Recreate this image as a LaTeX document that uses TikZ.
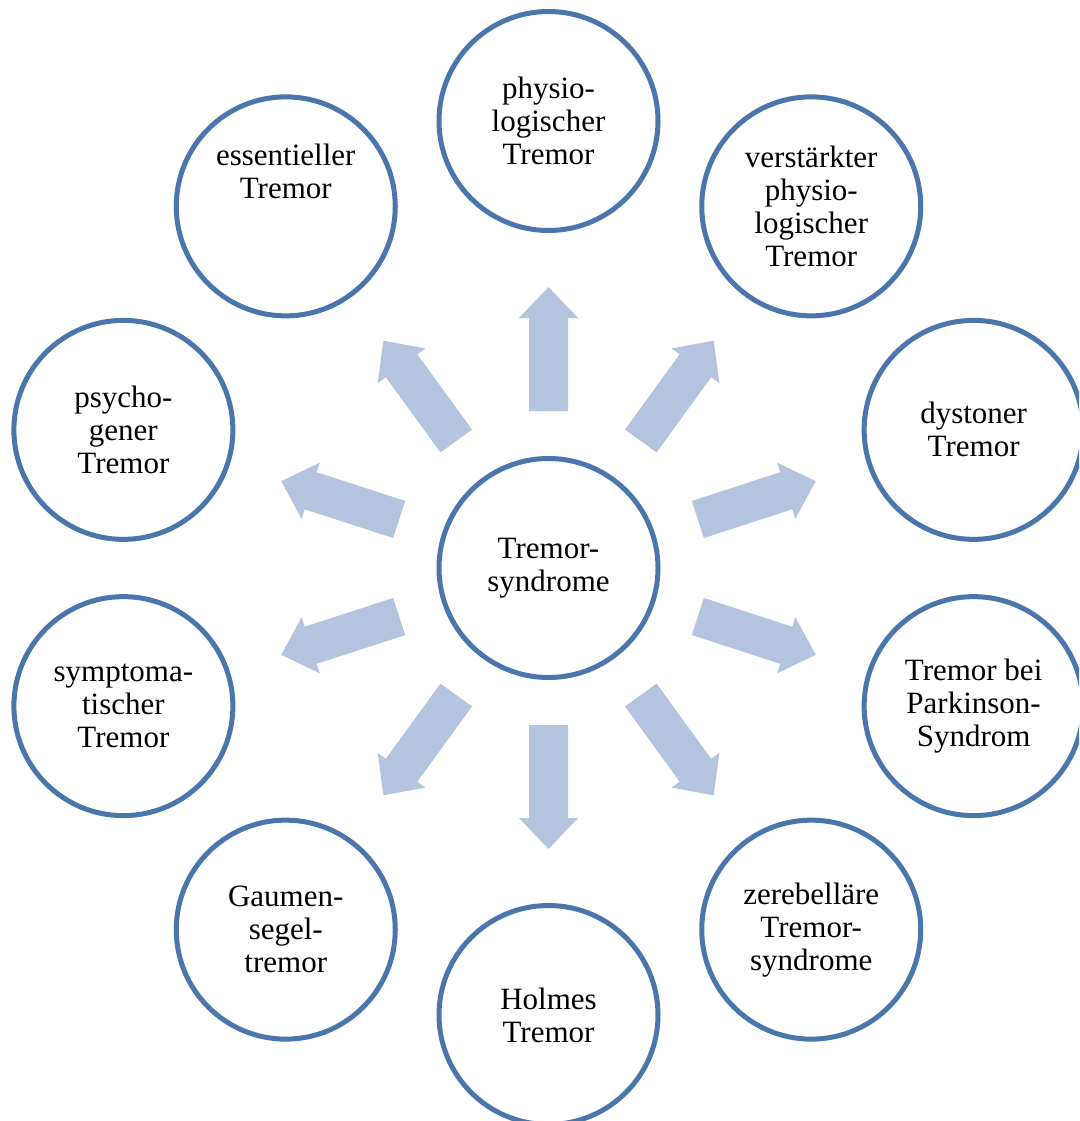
\documentclass[tikz,border=0pt]{standalone}
\usepackage{fontspec}
\setmainfont{Liberation Serif}
\usetikzlibrary{calc}
\definecolor{ringblue}{RGB}{74,118,172}
\definecolor{arrowblue}{RGB}{180,195,222}
\begin{document}
\begin{tikzpicture}[x=1pt,y=1pt,
  ring/.style={circle, draw=ringblue, line width=5pt, minimum size=219pt,
    inner sep=0pt, fill=white, align=center, font=\fontsize{31}{33}\selectfont},
  txt/.style={align=center, inner sep=0pt, font=\fontsize{31}{33}\selectfont},
  blockarrow/.style={fill=arrowblue}]
\useasboundingbox (0,0) rectangle (1079,-1121);
\clip (0,0) rectangle (1079,-1121);
\node[ring] (c) at (548.5,-568) {Tremor-\\syndrome};
\node[ring] (n0) at ($(c)+(90:447pt)$) {physio-\\logischer\\Tremor};
\node[ring] (n1) at ($(c)+(54:447pt)$) {verstärkter\\physio-\\logischer\\Tremor};
\node[ring] (n2) at ($(c)+(18:447pt)$) {dystoner\\Tremor};
\node[ring] (n3) at ($(c)+(-18:447pt)$) {Tremor bei\\Parkinson-\\Syndrom};
\node[ring] (n4) at ($(c)+(-54:447pt)$) {zerebelläre\\Tremor-\\syndrome};
\node[ring] (n5) at ($(c)+(-90:447pt)$) {Holmes\\Tremor};
\node[ring] (n6) at ($(c)+(-126:447pt)$) {Gaumen-\\segel-\\tremor};
\node[ring] (n7) at ($(c)+(-162:447pt)$) {symptoma-\\tischer\\Tremor};
\node[ring] (n8) at ($(c)+(162:447pt)$) {psycho-\\gener\\Tremor};
\node[ring] (n9) at ($(c)+(126:447pt)$) {};
\node[txt] (n9t) at ($(n9)+(0,35)$) {essentieller\\Tremor};
\foreach \n/\ang in {n0/90,n1/54,n2/18,n3/-18,n4/-54,n5/-90,n6/-126,n7/-162,n8/162,n9/126}{
  \fill[blockarrow, shift={(c.center)}, rotate=\ang]
    (157,-19.5) -- (250,-19.5) -- (250,-29.5) -- (281,0) -- (250,29.5)
    -- (250,19.5) -- (157,19.5) -- cycle;
}
\end{tikzpicture}
\end{document}
